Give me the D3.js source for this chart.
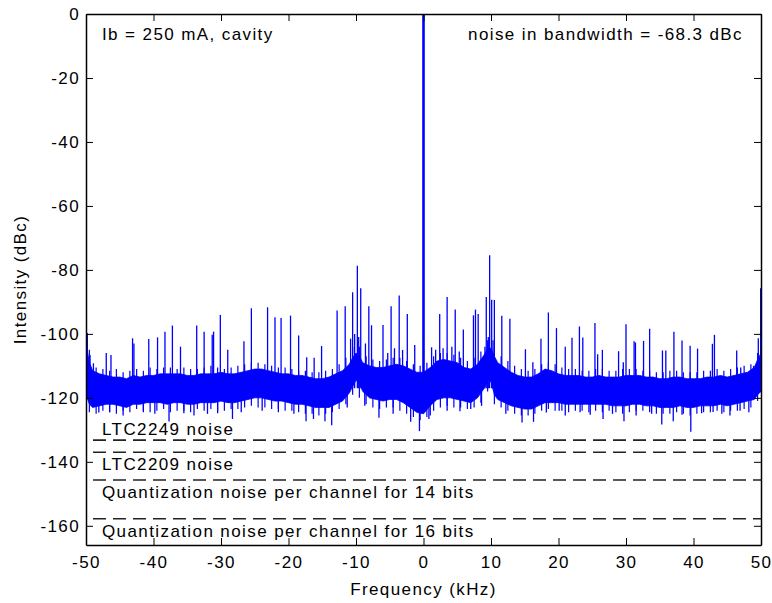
<!DOCTYPE html>
<html>
<head>
<meta charset="utf-8">
<script src="https://cdn.jsdelivr.net/npm/d3@7"></script>
<style>
    body { margin: 0; background: #fff; }
    svg text { font-family: "Liberation Sans", Arial, sans-serif; font-size: 17px; letter-spacing: 1.4px; fill: #000; }
    .axis path, .axis line { stroke: #000; }
</style>
</head>
<body>
<svg id="chart" width="772" height="603"></svg>
<script>
// noise band envelope (kHz, dBc)
var bandFreq = [-50, -49.5, -49, -48, -47, -46, -45, -44, -43, -42, -41, -40, -39, -38, -37, -36, -35, -34, -33, -32, -31, -30,
    -29, -28, -27, -26, -25, -24, -23, -22, -21, -20, -19, -18, -17, -16, -15, -14, -13, -12, -11, -10.5, -10, -9.5, -9,
    -8, -7, -6, -5, -4, -3, -2, -1, 0, 1, 2, 3, 4, 5, 6, 7, 8, 9, 9.5, 10, 10.5, 11, 12, 13, 14, 15, 16, 17, 18, 19, 20,
    21, 22, 23, 24, 25, 26, 27, 28, 29, 30, 31, 32, 33, 34, 35, 36, 37, 38, 39, 40, 41, 42, 43, 44, 45, 46, 47, 48, 49, 49.5, 50];
var bandHi = [-103, -109, -111.5, -112.5, -113, -113.5, -113.5, -114, -113, -113.5, -113, -113, -112.5, -112.5, -112.5, -112.5, -113, -113, -112.5, -112.5, -112.5, -112,
    -112.5, -112.5, -112, -111.5, -111, -111, -111.5, -112, -112.5, -112.5, -113, -113, -113.5, -114, -114, -113.5, -112.5, -111.5, -109.5, -107.5, -106, -107, -109,
    -110, -110.5, -110.5, -110, -109.5, -110, -111, -112, -112, -110.5, -108.5, -108, -108.5, -109, -110.5, -111, -109.5, -106.5, -104.5, -104.5, -107, -109, -110.5, -112, -113, -113.5, -113.5, -112.5, -111, -111.5, -112.5,
    -113, -113, -113, -113.5, -113.5, -113, -113.5, -113.5, -113.5, -113, -113, -113, -113.5, -113.5, -114, -114, -113.5, -113.5, -114, -114, -114, -113.5, -113.5, -113, -113.5, -113, -112.5, -112, -110.5, -108, -106];
var bandLo = [-119, -122, -123, -122.5, -122, -122, -122.5, -123, -122, -122, -121.5, -121.5, -121.5, -122, -121.5, -121.5, -122, -122, -121.5, -121.5, -121.5, -121,
    -121.5, -121.5, -121, -120.5, -120, -120, -120.5, -121, -121, -121.5, -122, -122, -122.5, -123, -123, -123, -122, -121, -118.5, -116.5, -114.5, -115.5, -118,
    -120, -120.5, -121, -120.5, -120.5, -121.5, -123, -124.5, -125, -122.5, -120.5, -120, -120, -120.5, -121, -121.5, -120, -117, -114.5, -115, -119, -120.5, -121.5, -122.5, -123, -123.5, -123.5, -122.5, -121.5, -121.5, -121.5,
    -122, -122, -122, -122, -122, -122, -122, -122.5, -122.5, -122.5, -122, -122, -122.5, -122.5, -123, -123, -123, -122.5, -123, -123, -122.5, -122.5, -122.5, -122, -122.5, -122, -121.5, -121, -120.5, -119, -118];

// ragged edge of the noise, between envelope points
var fuzzFreq = [-49.5, -48.5, -47.5, -46.5, -45.5, -44.5, -43.5, -42.5, -41.5, -40.5, -39.5, -38.5, -37.5, -36.5, -35.5, -34.5, -33.5,
    -32.5, -31.5, -30.5, -29.5, -28.5, -27.5, -26.5, -25.5, -24.5, -23.5, -22.5, -21.5, -20.5, -19.5, -18.5, -17.5, -16.5, -15.5, -14.5,
    -13.5, -12.5, -11.5, -10.5, -9.5, -8.5, -7.5, -6.5, -5.5, -4.5, -3.5, -2.5, -1.5, -0.5, 0.5, 1.5, 2.5, 3.5, 4.5, 5.5, 6.5, 7.5, 8.5,
    9.5, 10.5, 11.5, 12.5, 13.5, 14.5, 15.5, 16.5, 17.5, 18.5, 19.5, 20.5, 21.5, 22.5, 23.5, 24.5, 25.5, 26.5, 27.5, 28.5, 29.5, 30.5,
    31.5, 32.5, 33.5, 34.5, 35.5, 36.5, 37.5, 38.5, 39.5, 40.5, 41.5, 42.5, 43.5, 44.5, 45.5, 46.5, 47.5, 48.5, 49.5];
var fuzzHi = [-105, -110.5, -111, -111.5, -111, -112, -111.5, -111, -111.5, -110.5, -111, -110.5, -110.5, -111, -110.5, -111, -111,
    -110.5, -110, -110.5, -111, -110.5, -110, -109.5, -109, -109, -109.5, -110, -110.5, -110.5, -111, -111.5, -111.5, -112, -112, -111.5,
    -111, -109.5, -107.5, -104, -104, -107, -108, -108.5, -108, -107.5, -107.5, -108.5, -109.5, -110, -109, -107, -106, -106, -106.5, -107.5, -108.5, -107.5, -105.5,
    -102, -104.5, -107, -108.5, -110, -111, -111.5, -111, -109.5, -109, -109.5, -110.5, -111, -111, -111.5, -111.5, -111, -111, -111.5, -111.5, -111, -111,
    -111, -111.5, -111.5, -112, -112, -111.5, -111.5, -112, -112, -112, -111.5, -111.5, -111, -111.5, -111, -110.5, -110, -109.5, -106];
var fuzzLo = [-124.5, -125, -124, -124.5, -125, -124, -124.5, -123.5, -124, -124.5, -124, -123.5, -124.5, -124, -124, -124.5, -123.5,
    -124, -123.5, -124, -124, -123.5, -123.5, -123, -122.5, -123, -123, -123.5, -123.5, -124, -124, -124.5, -125, -125, -125.5, -125,
    -124.5, -123.5, -122, -119, -120, -122, -123, -123.5, -123, -123, -124, -125, -126, -127, -126, -124, -123, -122.5, -123, -123, -123.5, -123, -121.5,
    -118, -122, -123, -124, -125, -125.5, -125.5, -125, -124, -123.5, -124, -124, -124.5, -124, -124, -124.5, -124, -124.5, -124, -124.5, -125, -124.5,
    -124, -124, -124.5, -125, -125, -125, -124.5, -125, -125.5, -125, -124.5, -124.5, -124, -124.5, -124, -124, -123.5, -123, -121];

// discrete lines standing out of the noise
var spikeFreq = [-49.95, -49.8, -49.4, -48.9, -47.0, -46.3, -43.1, -42.9, -40.7, -39.4, -38.3, -37.2, -36.0, -33.6, -32.5, -31.3, -31.1, -30.1,
    -29.0, -26.6, -25.5, -23.1, -22.0, -21.1, -19.7, -18.5, -17.3, -16.2, -15.1, -12.8, -11.6, -10.8, -10.5, -10.2, -9.8, -9.6, -9.3, -8.6,
    -8.1, -7.7, -6.0, -5.3, -4.8, -4.3, -3.6, -3.1, -2.4, -1.3, 1.2, 1.8, 2.4, 2.9, 3.5, 4.2, 4.7, 5.3, 5.9, 7.4, 7.7, 8.1, 9.1, 9.3, 9.6,
    9.8, 10.1, 10.3, 10.5, 11.6, 12.8, 15.1, 16.2, 17.4, 18.5, 19.7, 21.0, 22.0, 23.1, 23.6, 25.4, 25.8, 26.5, 28.9, 29.6, 30.0, 31.2, 31.4,
    32.6, 33.5, 35.4, 35.9, 37.1, 38.3, 39.5, 40.6, 42.8, 43.1, 46.4, 47.0, 48.9, 49.6, 49.95];
var spikePeak = [-86.3, -99.7, -106.6, -109.2, -106.0, -106.6, -101.4, -103, -101.6, -101.1, -99.3, -97.4, -104.0, -97.4, -99.3, -100.3, -99.3, -94.1,
    -105.0, -102.3, -92.0, -91.7, -94.8, -95.0, -94.3, -100.5, -107.3, -107.5, -103.8, -92.7, -91.4, -101.5, -87.0, -100, -78.7, -101, -85.7, -103,
    -91.4, -97.3, -97.2, -106, -91.4, -104.5, -88.0, -105, -93.8, -103.5, -104.2, -105, -93.8, -104.5, -88.5, -104, -92.4, -105.5, -98.6, -94.2, -92.4, -93.8, -104, -88.5, -101,
    -75.4, -89.3, -102, -89.4, -94.3, -95.3, -104.8, -108.9, -101.5, -93.3, -98.2, -104.0, -101.2, -97.7, -101.1, -96.6, -106.4, -105.0, -105.4, -108.9, -97.0, -102.3, -102.7,
    -102.2, -98.4, -105.2, -105.2, -99.3, -102.1, -103.7, -104.6, -103.1, -100.3, -105.2, -110.5, -110.0, -101.4, -85.7];

var dipFreq = [-48.1, -46.5, -44.5, -41.5, -39.8, -37.7, -35.5, -34.0, -32.0, -30.5, -28.3, -27.0, -23.9, -21.5, -19.2, -17.4, -16.3, -14.6,
    -13.6, -11.3, -8.7, -6.6, -4.5, -1.9, -0.6, 0.8, 1.0, 3.5, 5.4, 7.0, 8.6, 12.2, 14.6, 16.3, 18.2, 20.1, 21.0, 23.2, 24.7, 26.6, 28.0,
    29.7, 31.5, 33.8, 35.3, 37.0, 38.3, 39.6, 41.2, 42.9, 44.2, 45.4, 46.9, 48.2];
var dipMin = [-124.6, -124.5, -125.5, -124.5, -125, -127.4, -124.8, -125.5, -125.0, -124.8, -126.6, -124.5, -124, -124.5, -125.0, -127.3, -126.6, -127.3,
    -128.6, -123, -122.5, -126.2, -125, -127.5, -130.4, -126.6, -125.5, -124.0, -124.2, -123.5, -122.5, -125.0, -127.7, -127.5, -124.6, -124.0, -125.5, -124.5, -125.3, -126.6, -125,
    -127.3, -125.5, -125, -128.3, -127.3, -125.3, -130.6, -124.8, -124.4, -125, -125.5, -124.0, -124.5];

// carrier
var carrierFreq = 0, carrierPeak = 0;

// reference noise levels
var noiseLevels = [-133.2, -137, -145.7, -157.8];
var noiseLabels = ['LTC2249 noise', 'LTC2209 noise',
    'Quantization noise per channel for 14 bits', 'Quantization noise per channel for 16 bits'];

var xTicks = [-50, -40, -30, -20, -10, 0, 10, 20, 30, 40, 50];
var yTicks = [0, -20, -40, -60, -80, -100, -120, -140, -160];

var mLeft = 86, mRight = 761, mTop = 14, mBottom = 545;
var svg = d3.select('#chart');

var x = d3.scaleLinear().domain([-50, 50]).range([mLeft, mRight]);
var y = d3.scaleLinear().domain([-166, 0]).range([mBottom, mTop]);

svg.append('clipPath').attr('id', 'plotclip')
    .append('rect')
        .attr('x', mLeft).attr('y', mTop)
        .attr('width', mRight - mLeft).attr('height', mBottom - mTop);

var plot = svg.append('g').attr('clip-path', 'url(#plotclip)');

var band = bandFreq.map(function(f, i) { return { f: f, hi: bandHi[i], lo: bandLo[i] }; });

plot.append('path')
    .datum(band)
    .attr('fill', '#0000ff')
    .attr('stroke', '#0000ff')
    .attr('stroke-width', 0.8)
    .attr('d', d3.area()
        .x(d => x(d.f))
        .y0(d => y(d.lo))
        .y1(d => y(d.hi)));

plot.selectAll('line.fuzz')
    .data(fuzzFreq)
    .enter().append('line')
        .attr('class', 'fuzz')
        .attr('x1', d => x(d)).attr('x2', d => x(d))
        .attr('y1', (d, i) => y(fuzzHi[i]))
        .attr('y2', (d, i) => y(fuzzLo[i]))
        .attr('stroke', '#0000ff')
        .attr('stroke-width', 1.2);

plot.selectAll('line.spike')
    .data(spikeFreq)
    .enter().append('line')
        .attr('class', 'spike')
        .attr('x1', d => x(d)).attr('x2', d => x(d))
        .attr('y1', (d, i) => y(spikePeak[i]))
        .attr('y2', y(-117))
        .attr('stroke', '#0000ff')
        .attr('stroke-width', 1.3);

plot.selectAll('line.dip')
    .data(dipFreq)
    .enter().append('line')
        .attr('class', 'dip')
        .attr('x1', d => x(d)).attr('x2', d => x(d))
        .attr('y1', y(-118))
        .attr('y2', (d, i) => y(dipMin[i]))
        .attr('stroke', '#0000ff')
        .attr('stroke-width', 1.3);

plot.append('line')
    .attr('x1', x(carrierFreq)).attr('x2', x(carrierFreq))
    .attr('y1', y(-115)).attr('y2', y(carrierPeak))
    .attr('stroke', '#0000ff')
    .attr('stroke-width', 2.6);

// dashed reference levels
plot.selectAll('line.level')
    .data(noiseLevels)
    .enter().append('line')
        .attr('class', 'level')
        .attr('x1', x(-50)).attr('x2', x(50))
        .attr('y1', d => y(d)).attr('y2', d => y(d))
        .attr('stroke', '#222')
        .attr('stroke-width', 1.6)
        .attr('stroke-dasharray', '13,7')
        .attr('stroke-dashoffset', 13);

var labelOffset = [-5, 18, 18, 18];
svg.selectAll('text.level')
    .data(noiseLabels)
    .enter().append('text')
        .attr('class', 'level')
        .attr('x', 102)
        .attr('y', (d, i) => y(noiseLevels[i]) + labelOffset[i])
        .text(d => d);

// axes, ticks pointing inward on all four sides
var fmt = d => String(d);

svg.append('g').attr('class', 'axis')
    .attr('transform', 'translate(0,' + mBottom + ')')
    .call(d3.axisBottom(x).tickValues(xTicks).tickSizeInner(-7).tickSizeOuter(0).tickPadding(11).tickFormat(fmt))
    .call(g => g.selectAll('text').attr('font-size', null).attr('font-family', null));

svg.append('g').attr('class', 'axis')
    .attr('transform', 'translate(0,' + mTop + ')')
    .call(d3.axisTop(x).tickValues(xTicks).tickSizeInner(-7).tickSizeOuter(0).tickFormat(''));

svg.append('g').attr('class', 'axis')
    .attr('transform', 'translate(' + mLeft + ',0)')
    .call(d3.axisLeft(y).tickValues(yTicks).tickSizeInner(-7).tickSizeOuter(0).tickPadding(6).tickFormat(fmt))
    .call(g => g.selectAll('text').attr('font-size', null).attr('font-family', null));

svg.append('g').attr('class', 'axis')
    .attr('transform', 'translate(' + mRight + ',0)')
    .call(d3.axisRight(y).tickValues(yTicks).tickSizeInner(-7).tickSizeOuter(0).tickFormat(''));

svg.selectAll('.axis .domain').attr('stroke-width', 1.5);

svg.append('text')
    .attr('x', (mLeft + mRight) / 2)
    .attr('y', 595)
    .attr('text-anchor', 'middle')
    .text('Frequency (kHz)');

svg.append('text')
    .attr('transform', 'translate(26,' + (mTop + mBottom) / 2 + ') rotate(-90)')
    .attr('text-anchor', 'middle')
    .text('Intensity (dBc)');

svg.append('text')
    .attr('x', 102).attr('y', 40)
    .text('Ib = 250 mA, cavity');

svg.append('text')
    .attr('x', 743).attr('y', 40)
    .attr('text-anchor', 'end')
    .text('noise in bandwidth = -68.3 dBc');
</script>
</body>
</html>
